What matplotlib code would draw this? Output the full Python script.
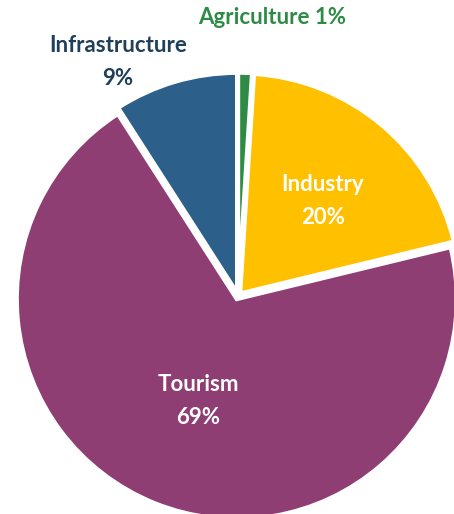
import matplotlib.pyplot as plt

# Sector shares (%)
sectors = ["Agriculture", "Industry", "Tourism", "Infrastructure"]
shares = [1, 20, 69, 9]
colors = ["#2E8B45", "#FFC000", "#8E3E72", "#2C5F8A"]

fig = plt.figure(figsize=(4.54, 5.14), dpi=100)
ax = fig.add_axes([0, 0, 1, 1])

wedges, _ = ax.pie(shares, colors=colors, startangle=90, counterclock=False,
                   explode=[0.015] * len(shares),
                   wedgeprops=dict(edgecolor="white", linewidth=3))

# pixel layout: center (238, 296), radius 220 px
ax.set_xlim(-238 / 220, (454 - 238) / 220)
ax.set_ylim(-(514 - 296) / 220, 296 / 220)
ax.set_aspect("auto")
ax.axis("off")

font = dict(family=["Lato", "DejaVu Sans"], fontweight="bold", fontsize=16,
            ha="center", va="center", linespacing=1.65)

def px(x, y):
    return ((x - 238) / 220, (296 - y) / 220)

ax.text(*px(272, 18), f"{sectors[0]} {shares[0]}%", color="#2E8B45", **font)
ax.text(*px(118, 62), f"{sectors[3]}\n{shares[3]}%", color="#1F3F5A", **font)
ax.text(*px(323, 201), f"{sectors[1]}\n{shares[1]}%", color="white", **font)
ax.text(*px(198, 401), f"{sectors[2]}\n{shares[2]}%", color="white", **font)

fig.savefig("out.png", dpi=100)
